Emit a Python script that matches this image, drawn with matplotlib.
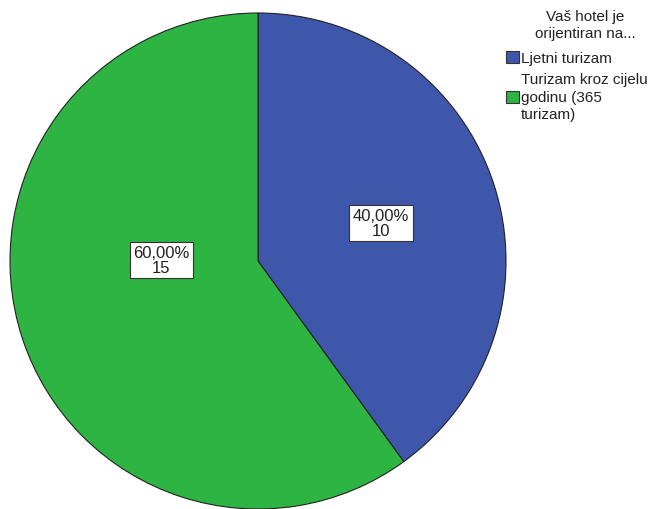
import matplotlib
matplotlib.use("Agg")
import matplotlib.pyplot as plt
from matplotlib.patches import Patch

plt.rcParams['font.family'] = ['Liberation Sans', 'DejaVu Sans']

categories = ["Ljetni turizam", "Turizam kroz cijelu\ngodinu (365\nturizam)"]
counts = [10, 15]
percent_labels = ["40,00%", "60,00%"]
colors = ["#3E57AB", "#2EB443"]
legend_title = "Vaš hotel je\norijentiran na..."

W, H = 664, 510
fig = plt.figure(figsize=(W/100, H/100), dpi=100)
ax = fig.add_axes([10/W, 0/H, 496/W, 496/H])
wedges, _ = ax.pie(counts, colors=colors, startangle=90, counterclock=False,
                   wedgeprops=dict(edgecolor="#222222", linewidth=0.8), radius=1.0)
ax.set_xlim(-1, 1)
ax.set_ylim(-1, 1)
ax.set_aspect('equal')
ax.axis('off')

label_pos = [(0.496, 0.153), (-0.391, 0.004)]
for (x, y), p, c in zip(label_pos, percent_labels, counts):
    ax.text(x, y, f"{p}\n{c}", ha='center', va='center', fontsize=12,
            linespacing=0.98, color="#222222",
            bbox=dict(boxstyle='square,pad=0.2', facecolor='white', edgecolor='#333333', linewidth=0.8))

fig.text(585/W, 1 - 10/H, legend_title, ha='center', va='top', fontsize=11,
         linespacing=1.3, color="#222222")

handles = [Patch(facecolor=col, edgecolor='#333333', linewidth=0.8) for col in colors]
leg = fig.legend(handles, categories, loc='upper left',
                 bbox_to_anchor=(506/W, 1 - 52/H), frameon=False, fontsize=11,
                 handlelength=0.85, handleheight=0.85, borderpad=0,
                 handletextpad=0.1, labelspacing=0.45, borderaxespad=0)
for t in leg.get_texts():
    t.set_linespacing(1.3)
    t.set_color("#222222")

fig.savefig("out.png", dpi=100)
